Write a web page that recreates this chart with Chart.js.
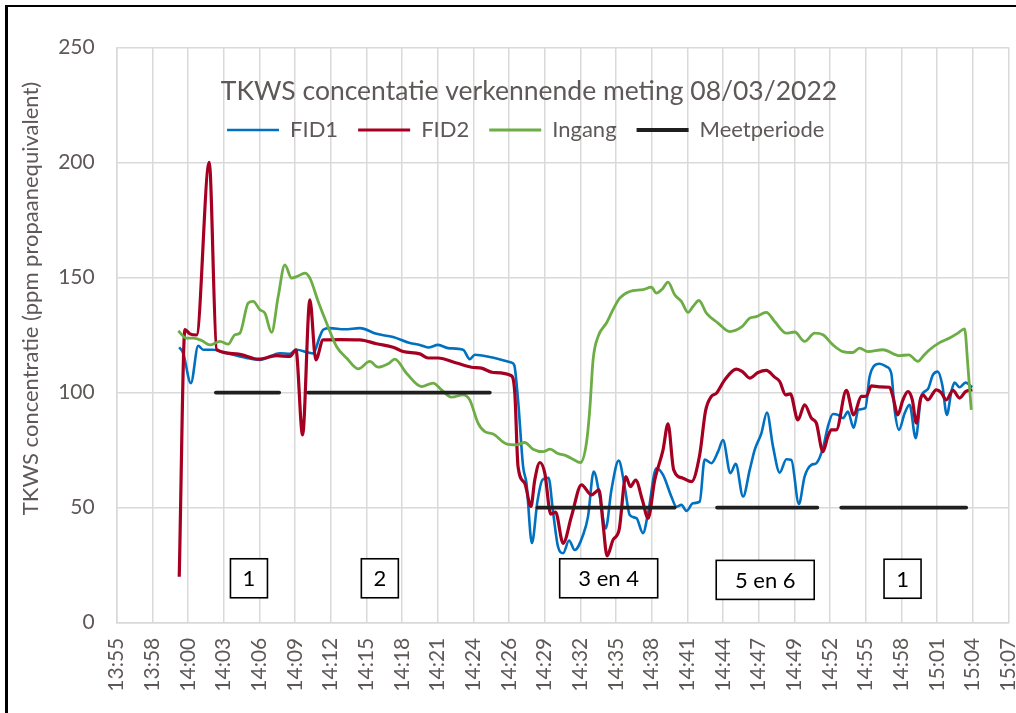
<!DOCTYPE html>
<html>
<head>
<meta charset="utf-8">
<script src="https://cdn.jsdelivr.net/npm/chart.js@4/dist/chart.umd.min.js"></script>
<style>
html,body{margin:0;padding:0;background:#fff;overflow:hidden;width:1016px;height:713px;}
#frame{position:absolute;left:5px;top:5px;width:1100px;height:800px;border-left:3px solid #000;border-top:2px solid #000;box-sizing:border-box;}
#wrap{position:absolute;left:0;top:0;width:1080px;height:713px;}
</style>
</head>
<body>
<div id="frame"></div>
<div id="wrap"><canvas id="c" width="1080" height="713"></canvas></div>
<script>
// ---------- texts ----------
const TITLE = 'TKWS concentatie verkennende meting 08/03/2022';
const Y_TITLE = 'TKWS concentratie (ppm propaanequivalent)';
const seriesNames = ['FID1', 'FID2', 'Ingang', 'Meetperiode'];
const xTickLabels = ['13:55','13:58','14:00','14:03','14:06','14:09','14:12','14:15','14:18','14:21','14:24','14:26','14:29','14:32','14:35','14:38','14:41','14:44','14:47','14:49','14:52','14:55','14:58','15:01','15:04','15:07'];

// ---------- data (time = minutes after 14:00) ----------
const fid1Min = [0.25,0.57,1.19,1.78,2.19,3.0,3.8,5.69,6.76,8.38,
  9.19,9.73,10.6,11.07,11.6,11.87,12.41,13.6,14.84,16.18,
  17.52,18.87,19.68,20.35,21.16,21.96,23.17,23.71,24.12,25.33,
  27.08,27.3,27.61,28.02,28.29,28.73,29.17,29.57,30.07,30.44,
  30.84,31.25,31.73,32.19,32.86,33.26,33.72,34.21,34.69,35.15,
  35.74,36.22,36.63,37.17,37.7,38.11,38.78,39.32,39.99,40.4,
  40.8,41.21,41.74,42.28,42.68,43.22,43.76,44.16,44.76,45.19,
  45.78,46.32,46.72,47.26,47.71,48.2,48.74,49.28,49.68,50.29,
  50.75,51.3,51.7,52.23,52.63,53.04,53.44,53.85,54.25,54.71,
  55.1,55.65,56.0,56.32,56.8,57.35,57.75,58.02,58.37,58.83,
  59.23,59.72,60.17,60.71,61.11,61.51,61.87,62.24,62.6,62.86,
  63.27,63.75,64.29];
const fid1Val = [119.7,117.1,104.1,120.3,118.6,118.6,117.5,115,114.2,117.1,
  116.8,118.6,117.5,117,124.3,127.3,128,127.5,128,125.5,
  124.1,121.5,120.7,119.6,120.7,119.3,118.6,114.5,116.4,115.4,
  113,112,96.8,67.8,60.6,34.6,52.5,62,63,48,
  33,30.2,35.7,31.6,38.1,46.1,65.7,54.8,41,57.7,
  70.4,59.1,46.8,45.4,38.9,47.6,67.1,64.2,54.8,50.4,
  51.2,48.6,51.9,52.6,70.9,69.3,74.3,79.4,65,69,
  54.8,66.4,75.1,82.3,91.3,76.5,65.2,71,70.7,51.6,
  63.5,68.6,69.3,75.8,85.2,90.7,90.3,88.9,91.7,84.7,
  92.5,93.2,107,111.3,112.5,111.3,108.4,92.5,83.8,91,
  94.7,80.2,98.3,101.5,107.7,109.1,103.3,90.3,100.4,104.3,
  102.3,104.3,102.3];

const fid2Min = [0.25,0.71,1.11,1.65,2.67,3.27,4.88,6.63,8.11,9.19,
  9.67,10.21,10.8,11.28,11.87,13.3,14.84,16.18,17.52,18.33,
  19.68,20.35,21.16,22.64,23.85,24.66,25.6,27.08,27.35,27.61,
  28.15,28.65,28.96,29.37,29.77,30.25,30.64,31.25,31.92,32.73,
  33.54,34.15,34.47,34.8,35.28,35.77,36.31,36.69,37.11,37.65,
  38.11,38.65,39.32,39.72,40.18,40.93,41.61,42.28,42.75,43.22,
  43.63,44.3,45.24,45.73,46.32,46.99,47.66,48.33,48.74,49.22,
  49.6,50.21,50.75,51.3,51.7,52.23,52.63,52.91,53.31,54.12,
  54.71,55.33,55.73,56.14,56.8,57.61,57.88,58.28,58.69,59.09,
  59.45,59.77,60.09,60.3,60.71,61.38,61.78,62.19,62.73,63.27,
  63.75,64.29];
const fid2Val = [20,127.3,125.5,125,200,118.6,116.8,114.5,116,115.7,
  118.6,81.6,140.3,114.2,122.9,123,122.9,121.2,119.7,117.8,
  116.8,115,115,112.8,111,110.6,108.7,107.3,99.7,67.8,
  60.6,50.5,62,69.6,65,47.2,48,34.5,46.1,59.9,
  55.5,57.7,43.2,29,36,40.3,63.5,59.1,62,53.3,
  45.4,62,75.1,86.4,66.4,62.8,61.3,73,92,98.3,
  99.7,105.5,110.2,109.1,106.3,108.7,109.6,106.7,104.8,99,
  99.4,88.1,94.7,88.9,86.7,74.3,80.9,83.8,83.8,100.9,
  90.3,98.3,98.4,102.9,102.5,102.3,98.3,90.3,96.8,100.4,
  96.8,86.7,96.8,99,96.8,101.2,100,96.8,100.9,97.6,
  100.4,101.2];

const ingMin = [0.17,0.85,1.38,2.06,2.73,3.54,4.2,4.75,5.15,5.82,
  6.22,6.76,7.17,7.71,8.24,8.78,9.32,9.8,10.4,10.8,
  11.47,12.15,12.95,13.76,14.7,15.64,16.31,17.12,17.66,18.6,
  19.82,20.75,21.43,22.24,23.17,23.71,24.38,24.93,25.6,26.67,
  27.48,28.15,28.82,29.63,30.2,30.84,31.52,32.05,32.65,33.13,
  33.4,33.67,34.07,34.75,35.28,35.82,36.63,37.7,38.38,38.78,
  39.27,39.72,40.26,40.8,41.34,41.74,42.22,42.82,43.76,44.7,
  45.64,46.32,46.85,47.66,48.33,49.28,49.95,50.75,51.56,52.23,
  53.04,53.85,54.65,55.19,55.86,57.07,58.42,59.17,59.9,60.3,
  60.84,61.65,62.46,63.13,63.67,63.94,64.21];
const ingVal = [126.8,123.6,123.6,122.6,120.7,122.2,121,125.1,125.8,138.9,
  139.6,136,134.5,126.1,141.7,155.5,149.7,150.5,151.9,149.7,
  139.6,130.2,120,115,110.3,113.5,111,112.5,114.5,108.4,
  102.6,104.1,101.2,98,99,96.8,86.7,83,82,77.7,
  77.3,78.3,75.4,74.3,75.4,73.5,72.5,71,69.6,78,
  92.5,114.2,124.3,130.2,136,141,143.9,144.7,145.8,143.2,
  145,148,142.5,139.6,134.8,137.4,140,134.5,130.2,126.5,
  128.4,132.3,133,134.8,130.9,125.8,126.3,122.2,125.8,125.1,
  120.7,117.8,117.4,119.3,117.8,118.6,116,116.4,113.5,115.7,
  118.6,121.7,123.7,125.8,127.7,111.3,92.5];

const periodStartMin = [3.21, 10.66, 29.18, 43.68, 53.71];
const periodEndMin   = [8.32, 25.33, 40.26, 51.78, 63.8];
const periodLevel    = [100, 100, 50, 50, 50];

const boxLabels = ['1', '2', '3 en 4', '5 en 6', '1'];
const boxMin    = [5.88, 16.45, 34.93, 47.57, 58.66];
const boxLevel  = [19.3, 19.3, 19.3, 18.6, 19.1];

// ---------- axis constants ----------
const BASE_MIN = 840;          // 14:00 in minutes after midnight
const X_MIN = 835.2;           // 13:55:12
const X_STEP = 2.88;           // 0.002 day
const X_MAX = X_MIN + X_STEP * (xTickLabels.length - 1);

const TXT = '#5f5858';
const GRID = '#d9d9d9';
Chart.defaults.font.family = 'Lato';
Chart.defaults.color = TXT;

const toPts = (mins, vals) => mins.map((m, i) => ({x: BASE_MIN + m, y: vals[i]}));
const periodPts = [];
periodStartMin.forEach((s, i) => {
  periodPts.push({x: BASE_MIN + s, y: periodLevel[i]});
  periodPts.push({x: BASE_MIN + periodEndMin[i], y: periodLevel[i]});
  periodPts.push({x: BASE_MIN + periodEndMin[i], y: null});
});

const placeBlocks = {
  id: 'placeBlocks',
  afterLayout(chart, args, o) {
    const t = chart.titleBlock;
    if (t) {
      const h = t.bottom - t.top;
      t.top = o.titleY - h / 2; t.bottom = t.top + h;
      t.left = o.titleX - 500; t.right = o.titleX + 500; t.width = 1000;
    }
    const lg = chart.legend;
    if (lg) {
      const h = lg.bottom - lg.top;
      const pad = lg.options.labels.padding;
      const fs = lg.options.labels.font.size;
      lg.top = o.legendY - pad - fs / 2; lg.bottom = lg.top + h;
      lg.left = o.legendX - 500; lg.right = o.legendX + 500; lg.width = 1000;
    }
    const ys = chart.scales.y;
    if (ys && !ys._shifted && typeof ys.drawTitle === 'function') {
      const orig = ys.drawTitle;
      ys.drawTitle = function () {
        const tp = this.top, bt = this.bottom;
        this.top += o.yTitleShift; this.bottom += o.yTitleShift;
        try { orig.call(this); } finally { this.top = tp; this.bottom = bt; }
      };
      ys._shifted = true;
    }
  }
};

const periodBoxes = {
  id: 'periodBoxes',
  afterDatasetsDraw(chart, args, o) {
    const {ctx, scales: {x, y}} = chart;
    ctx.save();
    boxLabels.forEach((label, i) => {
      const cx = x.getPixelForValue(BASE_MIN + boxMin[i]);
      const cy = y.getPixelForValue(boxLevel[i]);
      const w = o.widths[i], h = o.height;
      ctx.fillStyle = '#ffffff';
      ctx.fillRect(cx - w / 2, cy - h / 2, w, h);
      ctx.lineWidth = o.borderWidth;
      ctx.strokeStyle = '#000000';
      ctx.strokeRect(cx - w / 2, cy - h / 2, w, h);
      ctx.fillStyle = '#000000';
      ctx.font = o.fontSize + 'px Lato';
      ctx.textAlign = 'center';
      ctx.textBaseline = 'middle';
      ctx.fillText(label, cx, cy + 1);
    });
    ctx.restore();
  }
};

const options = {
  responsive: false,
  animation: false,
  events: [],
  layout: { padding: { left: 5, right: 1080 - 1008.3, top: 0, bottom: 0 } },
  scales: {
    x: {
      type: 'linear', min: X_MIN, max: X_MAX,
      afterBuildTicks: (s) => { s.ticks = xTickLabels.map((_, i) => ({value: X_MIN + i * X_STEP})); },
      afterFit: (s) => { s.height = 713 - 622.7; },
      grid: { color: GRID, lineWidth: 1.5, drawTicks: false },
      border: { color: GRID, width: 1.5 },
      ticks: { autoSkip: false, minRotation: 90, maxRotation: 90, padding: 15, font: { size: 21 }, color: TXT,
               callback: (v, i) => xTickLabels[i] }
    },
    y: {
      min: 0, max: 250,
      afterFit: (s) => { s.width = 116.7 - 5; },
      grid: { color: GRID, lineWidth: 1.5, drawTicks: false },
      border: { color: GRID, width: 1.5 },
      ticks: { stepSize: 50, padding: 22, font: { size: 21 }, color: TXT },
      title: { display: true, text: Y_TITLE, font: { size: 22 }, color: TXT, padding: { top: 13, bottom: 0 } }
    }
  },
  plugins: {
    title: { display: true, text: TITLE, font: { size: 26.5, weight: 'normal' }, color: TXT, padding: 0 },
    legend: {
      display: true, position: 'top',
      labels: { usePointStyle: true, pointStyle: 'line', pointStyleWidth: 52, padding: 20,
                font: { size: 22 }, color: TXT, sort: (a, b) => a.datasetIndex - b.datasetIndex }
    },
    tooltip: { enabled: false },
    placeBlocks: { titleX: 529, titleY: 91, legendX: 525.7, legendY: 130, yTitleShift: -36.5 },
    periodBoxes: { widths: [37, 37, 98, 98, 37], height: 39, borderWidth: 1.6, fontSize: 22 }
  }
};

const data = {
  datasets: [
    { label: seriesNames[0], data: toPts(fid1Min, fid1Val), borderColor: '#0070C0', backgroundColor: '#0070C0',
      borderWidth: 2.6, pointRadius: 0, cubicInterpolationMode: 'monotone', order: 4 },
    { label: seriesNames[1], data: toPts(fid2Min, fid2Val), borderColor: '#A50021', backgroundColor: '#A50021',
      borderWidth: 3.2, pointRadius: 0, cubicInterpolationMode: 'monotone', order: 3 },
    { label: seriesNames[2], data: toPts(ingMin, ingVal), borderColor: '#6DAD45', backgroundColor: '#6DAD45',
      borderWidth: 2.8, pointRadius: 0, cubicInterpolationMode: 'monotone', order: 2 },
    { label: seriesNames[3], data: periodPts, borderColor: '#1f1f1f', backgroundColor: '#1f1f1f',
      borderWidth: 3.8, pointRadius: 0, tension: 0, spanGaps: false, borderCapStyle: 'round', order: 1 }
  ]
};

const chart = new Chart(document.getElementById('c'), {
  type: 'line', data, options, plugins: [placeBlocks, periodBoxes]
});
const dy = 47.3 - chart.chartArea.top;
options.layout.padding.top += dy;
chart.update('none');
</script>
</body>
</html>
